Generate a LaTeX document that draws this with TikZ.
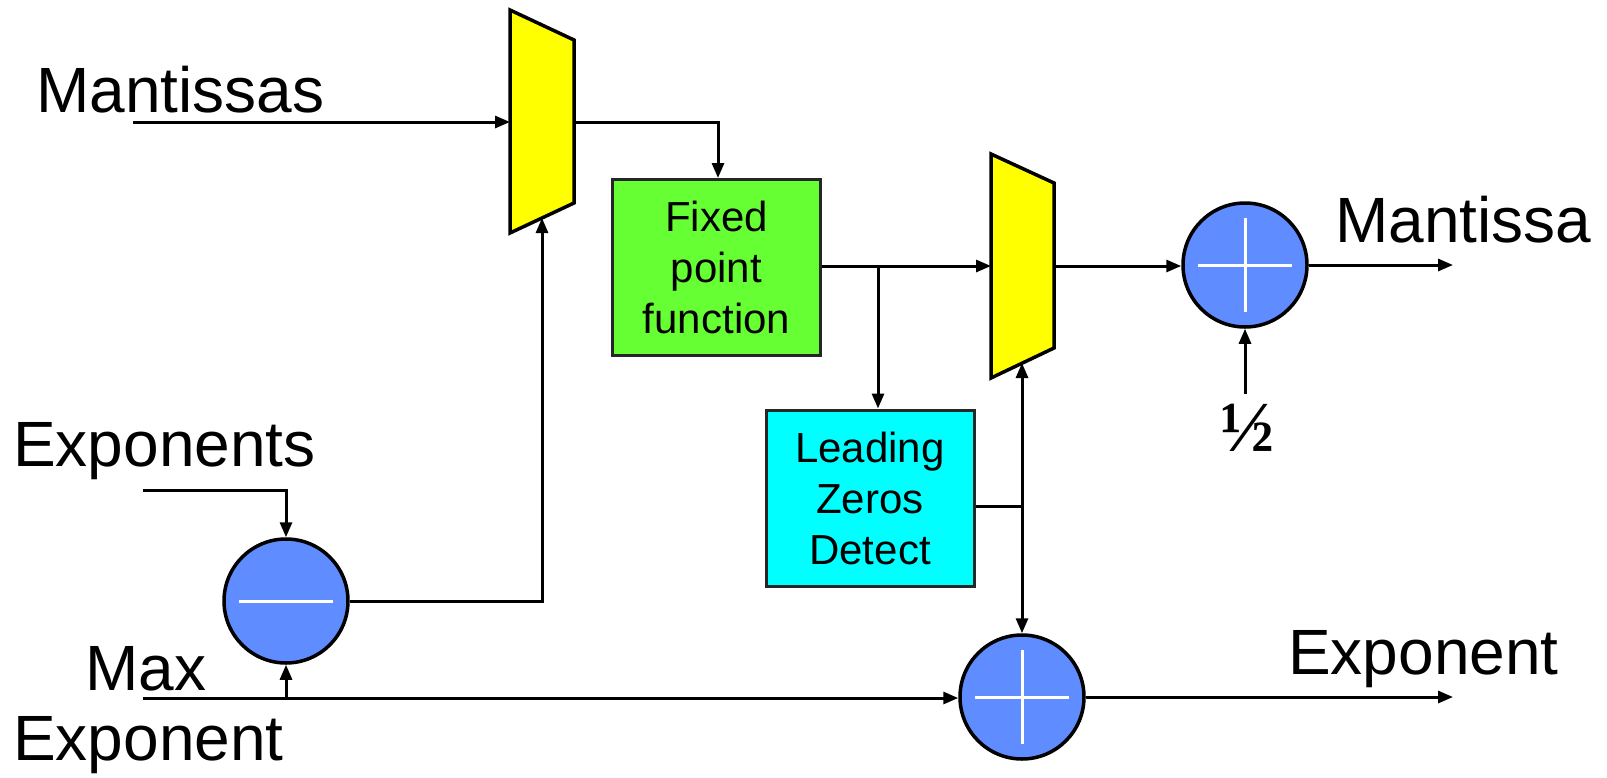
\documentclass[tikz,border=0pt]{standalone}
\usepackage{fontspec}
\setmainfont{Liberation Sans}
\newfontfamily\serifbold{Liberation Serif Bold}
\usetikzlibrary{arrows.meta}
\definecolor{muxyellow}{HTML}{FFFF00}
\definecolor{fpgreen}{HTML}{66FF33}
\definecolor{lzdcyan}{HTML}{00FFFF}
\definecolor{opblue}{HTML}{5F8CFF}
\begin{document}
\begin{tikzpicture}[x=1pt,y=-1pt,
  wire/.style={line width=3pt,draw=black},
  arr/.style={wire,-{Triangle[length=15pt,width=12pt]}},
  muxbox/.style={fill=muxyellow,draw=black,line width=3.5pt,line join=miter},
  blockbox/.style={draw=black!85,line width=3pt,minimum width=208pt,minimum height=176pt,inner sep=0pt,align=center,font=\fontsize{42}{51}\selectfont},
  opcirc/.style={circle,fill=opblue,draw=black,line width=3.5pt,minimum size=124pt,inner sep=0pt},
  bigtxt/.style={font=\fontsize{64}{70}\selectfont,inner sep=0pt},
  opmark/.style={draw=white,line width=3pt}]
\useasboundingbox (0,0) rectangle (1607,777);
% mux 1
\coordinate (m1tl) at (510,10);
\coordinate (m1tr) at (574,40);
\coordinate (m1br) at (574,203);
\coordinate (m1bl) at (510,233);
\coordinate (m1in) at (510,122);
\coordinate (m1out) at (574,122);
\coordinate (m1sel) at (542,218);
\draw[muxbox] (m1tl) -- (m1tr) -- (m1br) -- (m1bl) -- cycle;
% mux 2
\coordinate (m2tl) at (991,154);
\coordinate (m2tr) at (1054,183);
\coordinate (m2br) at (1054,348);
\coordinate (m2bl) at (991,378);
\coordinate (m2in) at (991,266);
\coordinate (m2out) at (1054,266);
\coordinate (m2sel) at (1022,363);
\draw[muxbox] (m2tl) -- (m2tr) -- (m2br) -- (m2bl) -- cycle;
% blocks
\node[blockbox,fill=fpgreen] (fpf) at (716.5,267.5) {Fixed\\point\\function};
\node[blockbox,fill=lzdcyan] (lzd) at (870,498) {Leading\\Zeros\\Detect};
% operators
\node[opcirc] (sub) at (286,601) {};
\draw[opmark] ([xshift=-47pt]sub.center) -- ([xshift=47pt]sub.center);
\node[opcirc] (addm) at (1245,265) {};
\draw[opmark] ([xshift=-47pt]addm.center) -- ([xshift=47pt]addm.center);
\draw[opmark] ([yshift=-47pt]addm.center) -- ([yshift=47pt]addm.center);
\node[opcirc] (adde) at (1022,697) {};
\draw[opmark] ([xshift=-47pt]adde.center) -- ([xshift=47pt]adde.center);
\draw[opmark] ([yshift=-47pt]adde.center) -- ([yshift=47pt]adde.center);
% labels
\node[bigtxt,anchor=base west] (lmants) at (36,112) {Mantissas};
\node[bigtxt,anchor=base west] (lexps) at (13,466) {Exponents};
\node[bigtxt,anchor=base west] (lmax) at (85,690) {Max};
\node[bigtxt,anchor=base west] (lmaxexp) at (13,760) {Exponent};
\node[bigtxt,anchor=base west] (lmant) at (1335,242) {Mantissa};
\node[bigtxt,anchor=base west] (lexp) at (1288,674) {Exponent};
\node[inner sep=0pt,font=\serifbold\fontsize{72}{76}\selectfont] (half) at (1247,428) {½};
% free ends
\coordinate (mantsrc) at (133,122);
\coordinate (expsrc) at (143,490);
\coordinate (maxsrc) at (143,698);
\coordinate (mantdst) at (1453,265);
\coordinate (expdst) at (1453,697);
\coordinate (halfsrc) at (1245,394);
\coordinate (j1) at (718,122);
\coordinate (j2) at (878,267);
\coordinate (j3) at (1022,506);
\coordinate (j4) at (542,601);
\coordinate (j5) at (286,698);
% connectors
\draw[arr] (mantsrc) -- (m1in);
\draw[arr] (m1out) -- (j1) -- (j1 |- fpf.north);
\draw[arr] (fpf.east |- m2in) -- (m2in);
\draw[arr] (j2) -- (j2 |- lzd.north);
\draw[arr] (m2out) -- (m2out -| addm.west);
\draw[arr] (addm.east) -- (mantdst);
\draw[arr] (halfsrc) -- (addm.south);
\draw[wire] (lzd.east |- j3) -- (j3);
\draw[arr] (j3) -- (m2sel);
\draw[arr] (j3) -- (adde.north);
\draw[arr] (expsrc) -- (expsrc -| sub.north) -- (sub.north);
\draw[arr] (sub.east |- j4) -- (j4) -- (m1sel);
\draw[arr] (maxsrc) -- (adde.west |- maxsrc);
\draw[arr] (j5) -- (sub.south);
\draw[arr] (adde.east |- expdst) -- (expdst);
\end{tikzpicture}
\end{document}
